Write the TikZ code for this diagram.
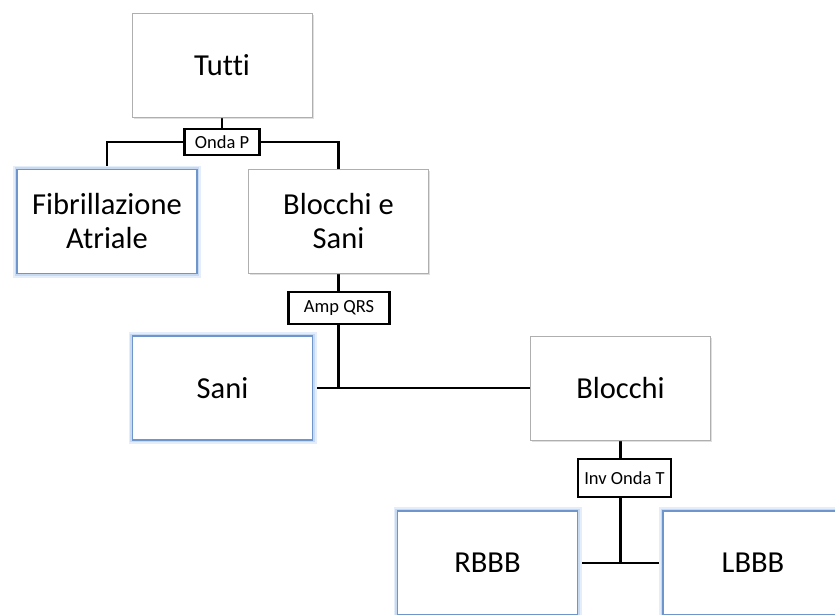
\documentclass[tikz,border=0pt]{standalone}
\usepackage{fontspec}
\setmainfont{Carlito}[Ligatures=NoCommon]
\usetikzlibrary{positioning,backgrounds,shadows}
\definecolor{leafblue}{RGB}{110,150,205}
\definecolor{leafglow}{RGB}{200,218,242}
\definecolor{leafhalo}{RGB}{228,237,250}
\definecolor{boxgray}{RGB}{175,175,175}
\tikzset{split box/.style={draw=boxgray,fill=white,line width=0.8pt,
                           minimum width=180pt,minimum height=104pt,align=center,
                           font=\fontsize{30.5}{34}\selectfont,
                           drop shadow={opacity=0.25,shadow xshift=1.5pt,shadow yshift=-1.5pt}}}
\tikzset{leaf box/.style={draw=leafblue,fill=white,line width=1.4pt,
                          minimum width=180pt,minimum height=104pt,align=center,
                          font=\fontsize{30.5}{34}\selectfont,
                          preaction={draw=leafhalo,line width=8pt},
                          preaction={draw=leafglow,line width=4.5pt}}}
\tikzset{test label/.style={draw=black,fill=white,line width=2.9pt,inner sep=2pt,
                            font=\fontsize{18.5}{20}\selectfont}}
\tikzset{branch/.style={draw=black,line width=2.4pt}}

\begin{document}
\begin{tikzpicture}[x=1pt,y=-1pt]
        \useasboundingbox (0,0) rectangle (835,614);
        % the tree of boxes
        \node[split box] (tutti) at (222,65) {Tutti};
        \node[leaf box] (fib) at (107,221.5) {Fibrillazione\\Atriale};
        \node[split box] (bes) at (338.5,221.5) {Blocchi e\\Sani};
        \node[leaf box] (sani) at (222.5,388) {Sani};
        \node[split box] (blocchi) at (620.5,388) {Blocchi};
        \node[leaf box] (rbbb) at (487.5,563) {RBBB};
        \node[leaf box] (lbbb) at (753,563) {LBBB};
        % the tests on the branches
        \node[test label,minimum width=75pt,minimum height=26pt] (ondap) at (222,142) {Onda P};
        \node[test label,minimum width=101pt,minimum height=32pt] (qrs) at (339,308) {Amp QRS};
        \node[test label,minimum width=93pt,minimum height=38pt] (invt) at (624.5,478) {Inv Onda T};
        \begin{scope}[on background layer]
            \draw[branch] (tutti) -- (ondap);
            \draw[branch] (ondap.west) -| (fib);
            \draw[branch] (ondap.east) -| (bes);
            \draw[branch] (bes) -- (bes |- sani.east);
            \draw[branch] (sani.east) -- (blocchi.west);
            \draw[branch] (blocchi) -- (blocchi |- rbbb.east);
            \draw[branch] (rbbb.east) -- (lbbb.west);
        \end{scope}
    \end{tikzpicture}
\end{document}
